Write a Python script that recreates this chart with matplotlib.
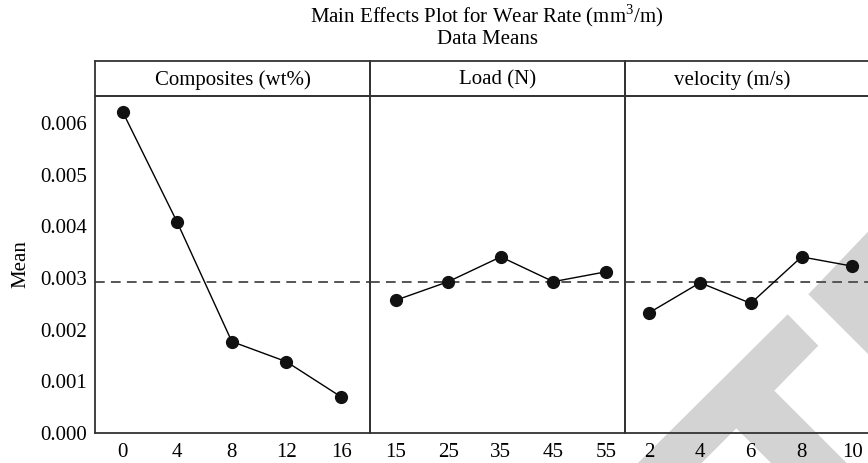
import numpy as np
import matplotlib
matplotlib.use("Agg")
import matplotlib.pyplot as plt
from matplotlib.patches import Polygon

# data
factors = ["Composites (wt%)", "Load (N)", "velocity (m/s)"]
levels_comp = ["0", "4", "8", "12", "16"]
levels_load = ["15", "25", "35", "45", "55"]
levels_vel = ["2", "4", "6", "8", "10"]
mean_comp = [0.00622, 0.00408, 0.00177, 0.00138, 0.00070]
mean_load = [0.00257, 0.00293, 0.00341, 0.00293, 0.00312]
mean_vel = [0.00233, 0.00291, 0.00251, 0.00341, 0.00323]
grand_mean = 0.00292

levels = [levels_comp, levels_load, levels_vel]
means = [mean_comp, mean_load, mean_vel]

plt.rcParams['font.family'] = ['Liberation Serif', 'DejaVu Serif']
plt.rcParams['mathtext.fontset'] = 'custom'
plt.rcParams['mathtext.rm'] = 'Liberation Serif'

W, H = 868, 463
fig = plt.figure(figsize=(W / 100, H / 100), dpi=100)

def fx(px):
    return px / W

def fy(py):
    return 1 - py / H

# pixel layout of the panels
edges = [(95.3, 370.0), (370.0, 624.7), (624.7, 868.0)]
xlims = [(-0.50, 4.53), (-0.49, 4.36), (-0.485, 4.31)]
y_top, y_bot, strip_top = 95.7, 433.0, 60.7
spine_col = "#333333"
fs = 15

# watermark in the lower right (drawn underneath)
wm = "#d3d3d3"
fig.add_artist(Polygon([(fx(868), fy(231.7)), (fx(808.3), fy(294.3)), (fx(868), fy(354))],
                       closed=True, transform=fig.transFigure, color=wm, lw=0, zorder=-5))
fig.add_artist(Polygon([(fx(787.7), fy(314.3)), (fx(818.3), fy(345.7)), (fx(774.3), fy(390.7)),
                        (fx(846.6), fy(463)), (fx(771), fy(463)), (fx(736.3), fy(428.3)),
                        (fx(701.6), fy(463)), (fx(638), fy(463))],
                       closed=True, transform=fig.transFigure, color=wm, lw=0, zorder=-5))

for i in range(3):
    x0, x1 = edges[i]
    ax = fig.add_axes([fx(x0), fy(y_bot), fx(x1 - x0), (y_bot - y_top) / H])
    ax.patch.set_alpha(0)
    xs = np.arange(len(levels[i]))
    ax.plot(xs, means[i], color="black", lw=1.0, marker="o", ms=8.5, mfc="#111111", mec="#111111", zorder=3)
    ax.axhline(grand_mean, color="#555555", lw=1.4, ls=(0, (5, 3.2)), zorder=2)
    ax.set_xlim(*xlims[i])
    ax.set_ylim(0, 0.00653)
    ax.set_xticks(xs)
    ax.set_xticklabels(levels[i])
    ax.tick_params(axis="x", length=0, labelsize=fs, pad=7)
    ax.tick_params(axis="y", length=0, labelsize=fs, pad=6)
    for s in ax.spines.values():
        s.set_color(spine_col)
        s.set_linewidth(1.3)
    if i == 0:
        ax.set_yticks([0, 0.001, 0.002, 0.003, 0.004, 0.005, 0.006])
        ax.set_yticklabels(["0.000", "0.001", "0.002", "0.003", "0.004", "0.005", "0.006"])
        ax.set_ylabel("Mean", fontsize=fs, labelpad=7)
    else:
        ax.set_yticks([])
    if i == 2:
        ax.spines["right"].set_visible(False)

    # header strip
    sax = fig.add_axes([fx(x0), fy(y_top), fx(x1 - x0), (y_top - strip_top) / H])
    sax.patch.set_alpha(0)
    sax.set_xticks([])
    sax.set_yticks([])
    for s in sax.spines.values():
        s.set_color(spine_col)
        s.set_linewidth(1.3)
    tx = 0.5
    if i == 2:
        sax.spines["right"].set_visible(False)
        tx = 0.44
    sax.text(tx, 0.44, factors[i], ha="center", va="center", fontsize=fs, transform=sax.transAxes)

fig.text(fx(487), fy(16), "Main Effects Plot for Wear Rate (mm$^3$/m)", ha="center", va="center", fontsize=fs)
fig.text(fx(487), fy(39), "Data Means", ha="center", va="center", fontsize=fs)

fig.savefig("out.png", dpi=100)
